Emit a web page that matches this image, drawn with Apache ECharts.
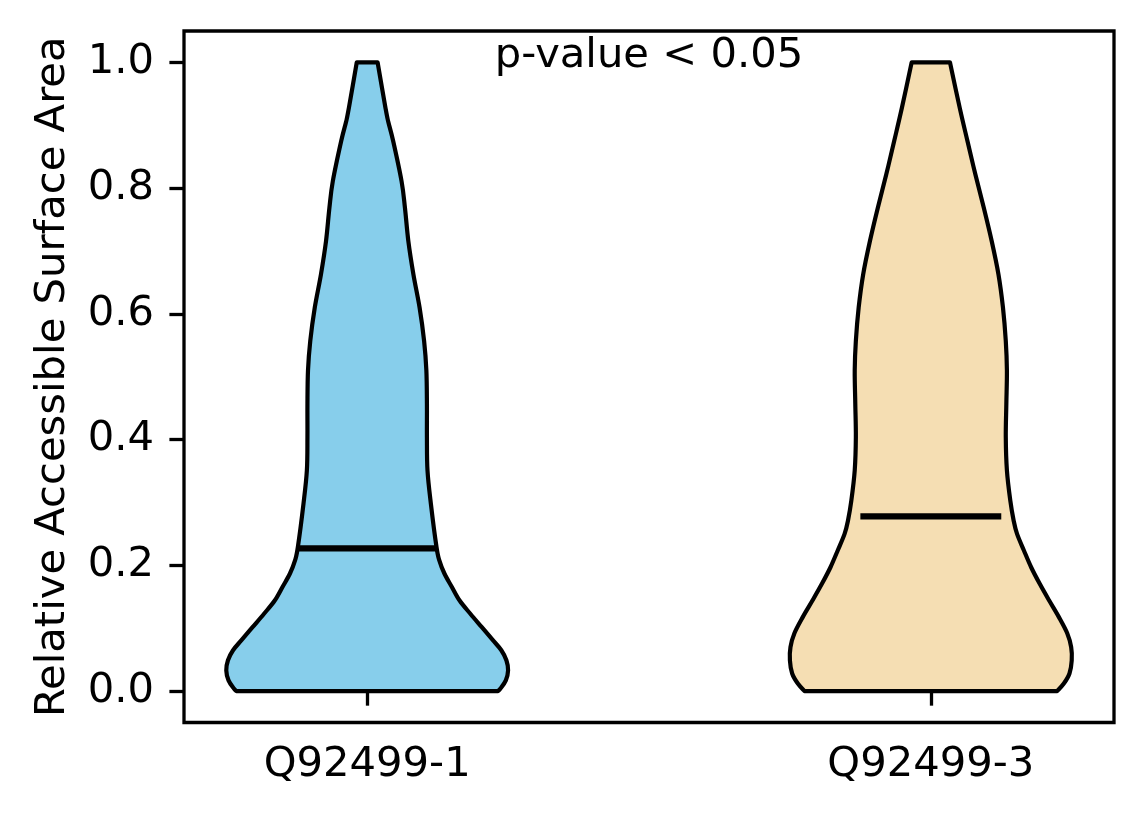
<!DOCTYPE html>
<html>
<head>
<meta charset="utf-8">
<script src="https://cdn.jsdelivr.net/npm/echarts@6/dist/echarts.min.js"></script>
<style>
  html, body { margin: 0; padding: 0; background: #fff; }
  #chart { width: 1144px; height: 824px; }
</style>
</head>
<body>
<div id="chart"></div>
<script>
// ---- data ----
const categories = ['Q92499-1', 'Q92499-3'];
const positions = [1, 2];
const medians = [0.227, 0.278];
const yTicks = [0, 0.2, 0.4, 0.6, 0.8, 1.0];
const annotation = 'p-value < 0.05';

// violin 1 (Q92499-1): y levels and half-widths (x-axis units)
const v1Y = [0, 0.004, 0.017, 0.033, 0.049, 0.065, 0.081, 0.102, 0.123, 0.144, 0.166, 0.187, 0.208, 0.229,
             0.298, 0.351, 0.404, 0.457, 0.51, 0.557, 0.61, 0.663, 0.716, 0.769, 0.811, 0.875, 0.906, 0.927, 1.0];
const v1W = [0.232, 0.2365, 0.246, 0.25, 0.247, 0.238, 0.223, 0.203, 0.183, 0.164, 0.150, 0.137, 0.128, 0.123,
             0.113, 0.107, 0.106, 0.106, 0.105, 0.101, 0.093, 0.082, 0.073, 0.067, 0.061, 0.0461, 0.0373, 0.0326, 0.0185];

// violin 2 (Q92499-3)
const v2Y = [0, 0.012, 0.028, 0.049, 0.070, 0.092, 0.118, 0.144, 0.171, 0.197, 0.224, 0.25, 0.271, 0.303,
             0.351, 0.404, 0.457, 0.51, 0.557, 0.61, 0.663, 0.716, 0.769, 0.822, 0.875, 0.927, 1.0];
const v2W = [0.224, 0.236, 0.246, 0.25, 0.249, 0.242, 0.227, 0.210, 0.193, 0.178, 0.165, 0.153, 0.147, 0.141,
             0.135, 0.133, 0.134, 0.135, 0.133, 0.128, 0.120, 0.108, 0.094, 0.079, 0.065, 0.0515, 0.034];

const violinYs = [v1Y, v2Y];
const violinWs = [v1W, v2W];
const fills = ['#87CEEB', '#F5DEB3'];
const medianHalf = 0.125;

const FONT = 'DejaVu Sans';
const FS = 41.7;
const chart = echarts.init(document.getElementById('chart'), null, { renderer: 'canvas' });

// Catmull-Rom through screen points -> cubic bezier path segments
function smoothSegs(p) {
  let d = '';
  const n = p.length;
  for (let i = 0; i < n - 1; i++) {
    const p0 = p[Math.max(i - 1, 0)], p1 = p[i], p2 = p[i + 1], p3 = p[Math.min(i + 2, n - 1)];
    const c1x = p1[0] + (p2[0] - p0[0]) / 6, c1y = p1[1] + (p2[1] - p0[1]) / 6;
    const c2x = p2[0] - (p3[0] - p1[0]) / 6, c2y = p2[1] - (p3[1] - p1[1]) / 6;
    d += ' C' + c1x + ' ' + c1y + ' ' + c2x + ' ' + c2y + ' ' + p2[0] + ' ' + p2[1];
  }
  return d;
}

function renderViolin(params, api) {
  const i = params.dataIndex;
  const pos = positions[i];
  const ys = violinYs[i], ws = violinWs[i];
  const left = [], right = [];
  for (let k = 0; k < ys.length; k++) left.push(api.coord([pos - ws[k], ys[k]]));
  for (let k = ys.length - 1; k >= 0; k--) right.push(api.coord([pos + ws[k], ys[k]]));
  let d = 'M' + left[0][0] + ' ' + left[0][1] + smoothSegs(left);
  d += ' L' + right[0][0] + ' ' + right[0][1] + smoothSegs(right) + ' Z';
  const m0 = api.coord([pos - medianHalf, medians[i]]);
  const m1 = api.coord([pos + medianHalf, medians[i]]);
  return {
    type: 'group',
    children: [
      { type: 'path', shape: { pathData: d },
        style: { fill: fills[i], stroke: '#000', lineWidth: 4.2, lineJoin: 'round' } },
      { type: 'line', shape: { x1: m0[0], y1: m0[1], x2: m1[0], y2: m1[1] },
        style: { stroke: '#000', lineWidth: 6.2 } }
    ]
  };
}

const option = {
  animation: false,
  backgroundColor: '#fff',
  grid: { left: 184, right: 30, top: 31, bottom: 101.5, show: true, borderColor: '#000', borderWidth: 3.3, backgroundColor: 'transparent' },
  xAxis: {
    type: 'value', min: 0.675, max: 2.325,
    axisLine: { show: false },
    splitLine: { show: false },
    axisTick: { show: true, length: 14.6, inside: false, customValues: positions, lineStyle: { color: '#000', width: 3.3 } },
    axisLabel: { customValues: positions, margin: 22, color: '#000', fontFamily: FONT, fontSize: FS,
      formatter: v => { const idx = positions.indexOf(v); return idx >= 0 ? categories[idx] : ''; } }
  },
  yAxis: {
    type: 'value', min: -0.05, max: 1.05,
    name: 'Relative Accessible Surface Area', nameLocation: 'middle', nameGap: 110,
    nameTextStyle: { color: '#000', fontFamily: FONT, fontSize: FS },
    axisLine: { show: false },
    splitLine: { show: false },
    axisTick: { show: true, length: 14.6, inside: false, customValues: yTicks, lineStyle: { color: '#000', width: 3.3 } },
    axisLabel: { customValues: yTicks, margin: 30, color: '#000', fontFamily: FONT, fontSize: FS,
      formatter: v => v.toFixed(1) }
  },
  series: [{
    type: 'custom',
    renderItem: renderViolin,
    data: positions.map(p => [p, 0]),
    encode: { x: 0, y: 1 },
    z: 2
  }]
};
chart.setOption(option);

const tp = chart.convertToPixel({ gridIndex: 0 }, [(positions[0] + positions[1]) / 2, 1.0]);
chart.setOption({
  graphic: [{
    type: 'text', x: tp[0], y: tp[1] - 6.5, z: 10,
    style: { text: annotation, fill: '#000', font: FS + 'px "DejaVu Sans"', align: 'center', verticalAlign: 'middle' }
  }]
});
</script>
</body>
</html>
